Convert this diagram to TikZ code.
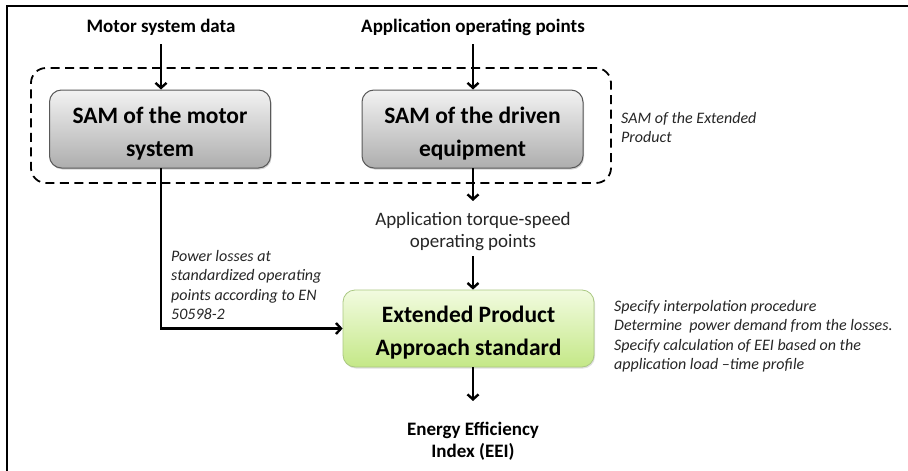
\documentclass[tikz,border=0pt]{standalone}
\usepackage{fontspec}
\setmainfont{Carlito}
\usetikzlibrary{arrows.meta,shadows}
\begin{document}
\begin{tikzpicture}[x=1pt,y=-1pt,
  arr/.style={line width=2.6pt,-{Straight Barb[length=5pt,width=11pt,line width=2.4pt]}},
  sambox/.style={draw=black!65,line width=1pt,rounded corners=12pt,top color=white!95!black,bottom color=black!32,
     minimum width=221pt,minimum height=78pt,inner sep=0pt,
     drop shadow={shadow xshift=1pt,shadow yshift=-1.5pt,opacity=0.35}},
  epabox/.style={draw={rgb,255:red,170;green,200;blue,130},line width=0.8pt,rounded corners=12pt,top color={rgb,255:red,242;green,251;blue,224},bottom color={rgb,255:red,196;green,232;blue,135},
     minimum width=251pt,minimum height=77pt,inner sep=0pt,
     drop shadow={shadow xshift=1pt,shadow yshift=-1.5pt,opacity=0.25}},
  boxtxt/.style={align=center,font=\bfseries\fontsize{23.5}{33}\selectfont,inner sep=0pt,yshift=-4.5pt},
  lbl/.style={font=\bfseries\fontsize{19}{22}\selectfont,align=center,inner sep=0pt},
  reg/.style={font=\fontsize{19}{22}\selectfont,align=center,inner sep=0pt,text=black!85},
  note/.style={font=\itshape\fontsize{16}{19.5}\selectfont,align=left,inner sep=0pt,text=black!85}]
\useasboundingbox (0,0) rectangle (908,471);
\fill[white] (0,0) rectangle (908,471);
\draw[line width=1.8pt] (7,471) -- (7,6) -- (908,6);
% dashed group
\node[draw,dash pattern=on 9pt off 5.5pt,line width=1.8pt,rounded corners=15pt,minimum width=580pt,minimum height=115pt,inner sep=0pt] (grp) at (321,125.5) {};
\node[note,anchor=north west] (grplbl) at (621,112) {SAM of the Extended\\Product};
% top labels
\node[lbl] (msd) at (161,27) {Motor system data};
\node[lbl] (aop) at (473,27) {Application operating points};
% SAM boxes
\node[sambox] (motor) at (160,129) {};
\node[boxtxt] (motortxt) at (motor.center) {SAM of the motor\\system};
\node[sambox] (driven) at (472.5,129) {};
\node[boxtxt] (driventxt) at (driven.center) {SAM of the driven\\equipment};
% application torque-speed
\node[reg] (ats) at (473,231.5) {Application torque-speed\\operating points};
% EPA box
\node[epabox] (epa) at (468.5,328.5) {};
\node[boxtxt] (epatxt) at (epa.center) {Extended Product\\Approach standard};
\node[note,anchor=north west] (epanote) at (614,300) {Specify interpolation procedure\\Determine\ \ power demand from the losses.\\Specify calculation of EEI based on the\\application load --time profile};
% EEI
\node[lbl] (eei) at (473,441) {Energy Efficiency\\Index (EEI)};
% power losses note
\node[note,anchor=north west] (plnote) at (171,250) {Power losses at\\standardized operating\\points according to EN\\50598-2};
% arrows
\coordinate (m1) at (161,44);
\coordinate (a1) at (473,44);
\draw[arr] (m1) -- (motor.north -| m1);
\draw[arr] (a1) -- (driven.north -| a1);
\coordinate (d0) at (473,168);
\coordinate (d1) at (473,201);
\draw[arr] (d0) -- (d1);
\coordinate (e0) at (473,256);
\draw[arr] (e0) -- (epa.north -| e0);
\coordinate (f0) at (473,367);
\coordinate (f1) at (473,401);
\draw[arr] (f0) -- (f1);
\coordinate (p0) at (161,168);
\draw[arr] (p0) |- (epa.west);
\end{tikzpicture}
\end{document}
